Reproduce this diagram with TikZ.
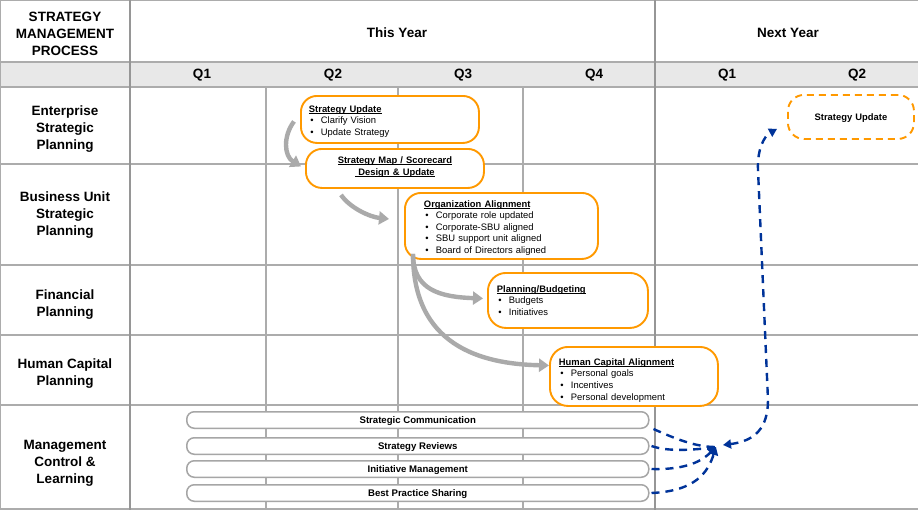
\documentclass[tikz,border=0pt]{standalone}
\usepackage{fontspec}
\setmainfont{Liberation Sans}
\usetikzlibrary{arrows.meta}

\definecolor{gridgray}{RGB}{172,172,172}
\definecolor{thickgray}{RGB}{150,150,150}
\definecolor{stripgray}{RGB}{232,232,232}
\definecolor{boxorange}{RGB}{255,153,0}
\definecolor{arrowgray}{RGB}{170,170,170}
\definecolor{flowblue}{RGB}{0,51,153}
\definecolor{bargray}{RGB}{166,166,166}

% bullet with its indent
\newcommand{\bul}{\hspace*{1.5pt}\makebox[10.5pt][l]{\textbullet}}
% bold title with a close underline that cuts the descenders
\newsavebox\ttlbox
\newcommand{\ttl}[1]{\sbox\ttlbox{\textbf{#1}}\usebox\ttlbox\llap{\rule[-1.5pt]{\wd\ttlbox}{0.65pt}}}
% invisible struts that nudge a text block down (top) or up (bottom)
\newcommand{\topstrut}[1]{\rule{0pt}{#1}}
\newcommand{\botstrut}[1]{\rule[-#1]{0pt}{0pt}}

\begin{document}
\begin{tikzpicture}[x=1pt,y=-1pt,
  gridline/.style={draw=gridgray,line width=1.3pt},
  yearline/.style={draw=thickgray,line width=2.6pt},
  hdr/.style={font=\fontsize{13.5}{16.8}\selectfont\bfseries,align=center,inner sep=0pt},
  stagebox/.style={draw=boxorange,line width=1.9pt,fill=white,rounded corners=16pt,
    anchor=north west,font=\fontsize{9.4}{11.6}\selectfont,align=left,inner ysep=0pt},
  nextbox/.style={stagebox,dashed,dash pattern=on 7pt off 5pt,align=center},
  bar/.style={draw=bargray,line width=1.5pt,fill=white,rounded corners=7.5pt,anchor=north west,
    minimum width=462pt,minimum height=16.5pt,inner sep=0pt,font=\fontsize{9.6}{11}\selectfont\bfseries},
  graystep/.style={draw=arrowgray,line width=4.4pt,-{Triangle[width=13pt,length=10pt]}},
  flow/.style={draw=flowblue,line width=2.4pt,dash pattern=on 8pt off 6pt},
  flowtip/.style={-{Triangle[width=9pt,length=8pt]}}
]
\useasboundingbox (0,0) rectangle (918,511);
\fill[white] (0,0) rectangle (918,511);

% quarter strip
\fill[stripgray] (0,62) rectangle (918,87);

% table rules
\foreach \yy in {0.7,62,87,164,265,335,405,509}
  \draw[gridline] (0,\yy) -- (918,\yy);
\draw[gridline] (0.7,0) -- (0.7,509);
\foreach \xx in {266,398,523}
  \draw[gridline] (\xx,87) -- (\xx,509);
\draw[yearline] (130,0) -- (130,509.5);
\draw[yearline] (655,0) -- (655,509.5);

% column and row headings
\node[hdr] (proc) at (65,34) {STRATEGY\\MANAGEMENT\\PROCESS};
\node[hdr] (thisyear) at (397,33) {This Year};
\node[hdr] (nextyear) at (788,33) {Next Year};
\node[hdr] (q1a) at (202,75.5) {Q1};
\node[hdr] (q2a) at (333,75.5) {Q2};
\node[hdr] (q3a) at (463,75.5) {Q3};
\node[hdr] (q4a) at (594,75.5) {Q4};
\node[hdr] (q1b) at (727,75.5) {Q1};
\node[hdr] (q2b) at (857,75.5) {Q2};
\node[hdr] (rowesp) at (65,129) {Enterprise\\Strategic\\Planning};
\node[hdr] (rowbu) at (65,215) {Business Unit\\Strategic\\Planning};
\node[hdr] (rowfin) at (65,304.5) {Financial\\Planning};
\node[hdr] (rowhc) at (65,373.5) {Human Capital\\Planning};
\node[hdr] (rowmcl) at (65,463) {Management\\Control \&\\Learning};

% stage boxes
\node[stagebox,minimum width=178pt,minimum height=47pt,inner xsep=8pt,text width=162pt] (su) at (300,95)
  {\topstrut{10.7pt}\ttl{Strategy Update}\\\bul Clarify Vision\\\bul Update Strategy};
\node[stagebox,minimum width=178pt,minimum height=39pt,inner xsep=8pt,text width=162pt,align=center] (smap) at (305,148)
  {\ttl{Strategy Map / Scorecard}\\\ttl{\ Design \& Update}\botstrut{5pt}};
\node[stagebox,minimum width=193pt,minimum height=66pt,inner xsep=19pt,text width=155pt] (oa) at (404,192)
  {\topstrut{10.7pt}\ttl{Organization Alignment}\\\bul Corporate role updated\\\bul Corporate-SBU aligned\\\bul SBU support unit aligned\\\bul Board of Directors aligned};
\node[stagebox,minimum width=160pt,minimum height=55pt,inner xsep=9pt,text width=142pt,rounded corners=18pt] (pb) at (487,272)
  {\ttl{Planning/Budgeting}\\\bul Budgets\\\bul Initiatives};
\node[stagebox,minimum width=168pt,minimum height=59pt,inner xsep=9pt,text width=150pt,rounded corners=18pt] (hc) at (549,346)
  {\topstrut{14.5pt}\ttl{Human Capital Alignment}\\\bul Personal goals\\\bul Incentives\\\bul Personal development};
\node[nextbox,minimum width=126pt,minimum height=44pt,inner xsep=4pt,text width=118pt] (su2) at (787,94)
  {\topstrut{8.7pt}\textbf{Strategy Update}};

% hand-offs between stages
\draw[graystep] ([shift={(-6,2)}]su.west) .. controls (283,136) and (284,156) .. ([shift={(-4,-2)}]smap.west);
\draw[graystep] ([shift={(36,6)}]smap.south west) .. controls (350,208) and (370,217) .. ([shift={(-15,-7)}]oa.west);
\draw[graystep] ([shift={(9,-6)}]oa.south west) .. controls (413,290) and (440,297) .. ([shift={(-4,-2)}]pb.west);
\draw[graystep] ([shift={(9,-6)}]oa.south west) .. controls (413,345) and (480,364) .. ([shift={(0,-11)}]hc.west);

% ongoing management activities
\node[bar] (sc) at (186,411) {\topstrut{8.5pt}Strategic Communication};
\node[bar] (sr) at (186,437) {\topstrut{8.5pt}Strategy Reviews};
\node[bar] (im) at (186,460) {\topstrut{8.5pt}Initiative Management};
\node[bar] (bp) at (186,484) {\topstrut{8.5pt}Best Practice Sharing};

% feedback into next year's update
\coordinate (hub) at (716,447);
\coordinate (hubout) at (723,445);
\draw[flow] ([xshift=4pt]sc.south east) .. controls (680,441) and (698,447) .. (hub);
\draw[flow] ([xshift=2pt]sr.east) .. controls (668,452) and (695,450) .. (hub);
\draw[flow,flowtip] ([xshift=2pt]im.east) .. controls (688,470) and (703,460) .. (hub);
\draw[flow,flowtip] ([xshift=2pt]bp.east) .. controls (696,491) and (708,472) .. (hub);
\draw[flow,{Triangle[width=9pt,length=8pt]}-{Triangle[width=9pt,length=8pt]}] (hubout)
  .. controls (755,441) and (768,428) .. (768,400) -- (758,170)
  .. controls (757,150) and (764,136) .. ([shift={(-10,12)}]su2.west);
\end{tikzpicture}
\end{document}
